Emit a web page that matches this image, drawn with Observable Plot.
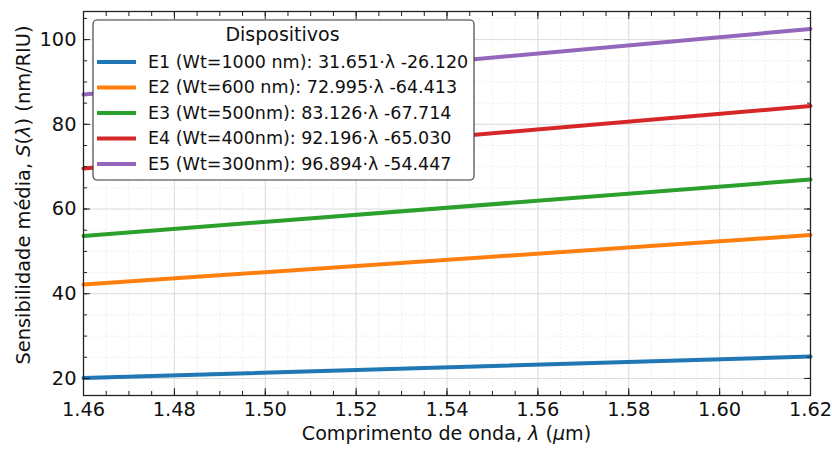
<!DOCTYPE html>
<html><head><meta charset="utf-8">
<script src="https://cdn.jsdelivr.net/npm/d3@7"></script>
<script src="https://cdn.jsdelivr.net/npm/@observablehq/plot@0.6"></script>
<style>
body{margin:0;background:#fff;}
#chart svg{display:block;}
</style>
</head><body><div id="chart"></div>
<script>
// ---- data ----
const wavelengths = [1.46, 1.62];
const seriesNames = ["E1", "E2", "E3", "E4", "E5"];
const legendLabels = [
  "E1 (Wt=1000 nm): 31.651·λ -26.120",
  "E2 (Wt=600 nm): 72.995·λ -64.413",
  "E3 (Wt=500nm): 83.126·λ -67.714",
  "E4 (Wt=400nm): 92.196·λ -65.030",
  "E5 (Wt=300nm): 96.894·λ -54.447"
];
const e1Values = [20.09, 25.15];
const e2Values = [42.16, 53.84];
const e3Values = [53.65, 66.95];
const e4Values = [69.58, 84.33];
const e5Values = [87.02, 102.52];
const seriesColors = ["#1f77b4", "#ff7f0e", "#2ca02c", "#d62728", "#9467bd"];
const xTickValues = [1.46, 1.48, 1.50, 1.52, 1.54, 1.56, 1.58, 1.60, 1.62];
const xTickLabels = ["1.46", "1.48", "1.50", "1.52", "1.54", "1.56", "1.58", "1.60", "1.62"];
const yTickValues = [20, 40, 60, 80, 100];
const yTickLabels = ["20", "40", "60", "80", "100"];

const allValues = [e1Values, e2Values, e3Values, e4Values, e5Values];
const rows = [];
seriesNames.forEach((s, i) => wavelengths.forEach((w, j) => rows.push({series: s, lambda: w, s: allValues[i][j]})));

const xMinor = d3.range(0, 33).map(i => +(1.46 + i * 0.005).toFixed(3));
const yMinor = d3.range(20, 106, 5);

const FONT = "DejaVu Sans";
const FS = 19.4;      // tick labels
const FS_AX = 19.1;   // axis titles
const FS_TITLE = 19;  // legend title
const FS_LEG = 17.5;  // legend entries

const chart = Plot.plot({
  width: 832,
  height: 451,
  marginLeft: 83,
  marginRight: 22,
  marginTop: 11,
  marginBottom: 56,
  style: {fontFamily: FONT, fontSize: FS + "px", color: "#111", background: "white"},
  x: {domain: [1.46, 1.62], label: null},
  y: {domain: [15.97, 106.64], label: null},
  color: {domain: seriesNames, range: seriesColors},
  marks: [
    Plot.ruleX(xMinor, {stroke: "#e4e4e4", strokeWidth: 0.8, strokeDasharray: "1.5,2"}),
    Plot.ruleY(yMinor, {stroke: "#e4e4e4", strokeWidth: 0.8, strokeDasharray: "1.5,2"}),
    Plot.ruleX(xTickValues, {stroke: "#dddddd", strokeWidth: 1}),
    Plot.ruleY(yTickValues, {stroke: "#dddddd", strokeWidth: 1}),
    Plot.line(rows, {x: "lambda", y: "s", z: "series", stroke: "series", strokeWidth: 4}),
    Plot.frame({stroke: "#222", strokeWidth: 1.3}),
    // bottom
    Plot.axisX(xTickValues, {anchor: "bottom", tickSize: -7, tickPadding: 14.2, tickFormat: (d) => xTickLabels[xTickValues.indexOf(d)], fontSize: FS, label: null, stroke: "#222", fill: "#111"}),
    Plot.axisX(xMinor, {anchor: "bottom", tickSize: -4, tickFormat: () => "", label: null, stroke: "#222"}),
    // top
    Plot.axisX(xTickValues, {anchor: "top", tickSize: -7, tickFormat: () => "", label: null, stroke: "#222"}),
    Plot.axisX(xMinor, {anchor: "top", tickSize: -4, tickFormat: () => "", label: null, stroke: "#222"}),
    // left
    Plot.axisY(yTickValues, {anchor: "left", tickSize: -7, tickPadding: 14, tickFormat: d => yTickLabels[yTickValues.indexOf(d)], fontSize: FS, label: null, stroke: "#222", fill: "#111"}),
    Plot.axisY(yMinor, {anchor: "left", tickSize: -4, tickFormat: () => "", label: null, stroke: "#222"}),
    // right
    Plot.axisY(yTickValues, {anchor: "right", tickSize: -7, tickFormat: () => "", label: null, stroke: "#222"}),
    Plot.axisY(yMinor, {anchor: "right", tickSize: -4, tickFormat: () => "", label: null, stroke: "#222"})
  ]
});
document.getElementById("chart").appendChild(chart);

const svg = d3.select(chart);

// axis labels with italic math parts
const xl = svg.append("text")
  .attr("x", 446.5).attr("y", 440)
  .attr("text-anchor", "middle")
  .attr("font-family", FONT).attr("font-size", FS_AX).attr("fill", "#111");
xl.append("tspan").text("Comprimento de onda, ");
xl.append("tspan").attr("font-style", "italic").text("λ");
xl.append("tspan").text(" (");
xl.append("tspan").attr("font-style", "italic").text("μ");
xl.append("tspan").text("m)");

const yl = svg.append("text")
  .attr("transform", "translate(29.5,195) rotate(-90)")
  .attr("text-anchor", "middle")
  .attr("font-family", FONT).attr("font-size", FS).attr("fill", "#111");
yl.append("tspan").text("Sensibilidade média, ");
yl.append("tspan").attr("font-style", "italic").text("S");
yl.append("tspan").text("(");
yl.append("tspan").attr("font-style", "italic").text("λ");
yl.append("tspan").text(") (nm/RIU)");

// legend
const lg = svg.append("g").attr("font-family", FONT).attr("fill", "#111");
lg.append("rect")
  .attr("x", 93).attr("y", 20).attr("width", 381).attr("height", 160).attr("rx", 4)
  .attr("fill", "white").attr("stroke", "#333").attr("stroke-width", 1.1);
lg.append("text").attr("x", 282.5).attr("y", 41).attr("text-anchor", "middle")
  .attr("font-size", FS_TITLE).text("Dispositivos");
legendLabels.forEach((lab, i) => {
  const cy = 62 + i * 25.5;
  lg.append("line").attr("x1", 97).attr("x2", 136).attr("y1", cy).attr("y2", cy)
    .attr("stroke", seriesColors[i]).attr("stroke-width", 4);
  lg.append("text").attr("x", 148).attr("y", cy + 5.8).attr("text-anchor", "start")
    .attr("font-size", FS_LEG).text(lab);
});
</script>
</body></html>
